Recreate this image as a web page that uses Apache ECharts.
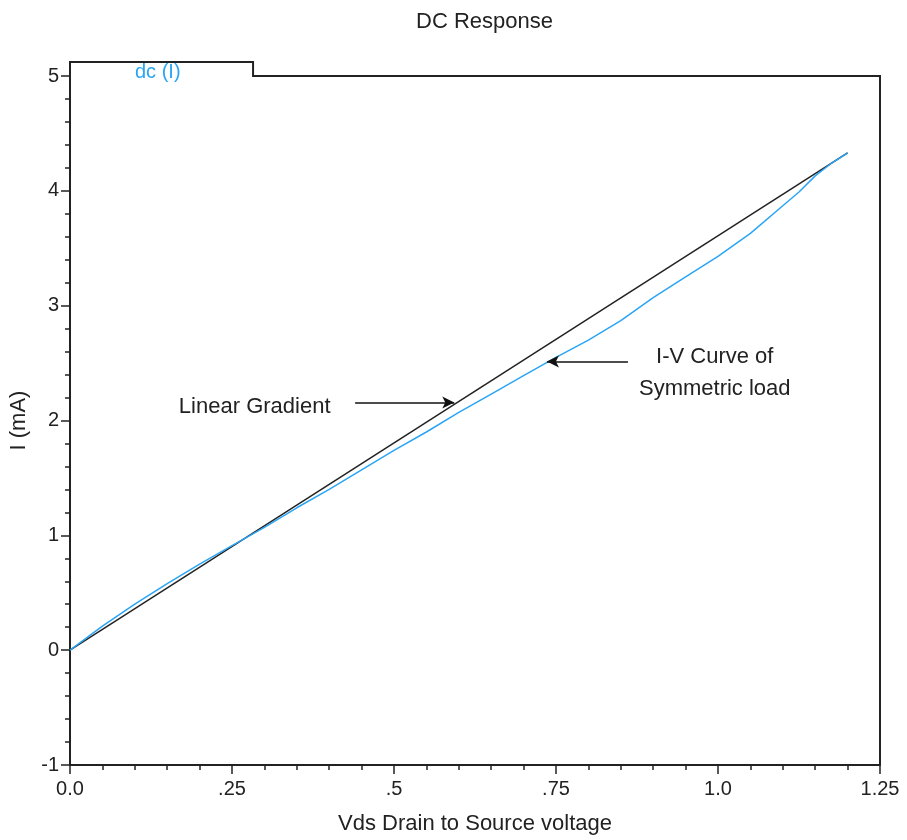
<!DOCTYPE html>
<html>
<head>
<meta charset="utf-8">
<title>DC Response</title>
<script src="https://cdn.jsdelivr.net/npm/echarts@6/dist/echarts.min.js"></script>
<style>
    html, body {margin: 0; padding: 0; background: #fff;}
    #chartWrap {width: 907px; height: 840px;}
</style>
</head>
<body>
<div id="chartWrap"></div>
<script>
// drain-source voltage (V) and measured current (mA) of the symmetric load
const vds = [0, 0.05, 0.1, 0.15, 0.2, 0.25, 0.3, 0.35, 0.4, 0.45, 0.5, 0.55, 0.6,
    0.65, 0.7, 0.75, 0.8, 0.85, 0.9, 0.95, 1.0, 1.05, 1.1, 1.125, 1.15, 1.175, 1.2];
const iSymmetric = [0, 0.21, 0.40, 0.58, 0.75, 0.91, 1.07, 1.24, 1.40, 1.57, 1.74, 1.90, 2.07,
    2.23, 2.39, 2.55, 2.70, 2.87, 3.07, 3.25, 3.43, 3.63, 3.87, 3.99, 4.13, 4.24, 4.33];

// straight reference line (end points)
const gradientX = [0, 1.2];
const gradientY = [0, 4.33];

const xTickLabels = ['0.0', '.25', '.5', '.75', '1.0', '1.25'];

// annotation arrows: [fromX, fromY, toX, toY]
const arrows = [
    [0.44, 2.157, 0.593, 2.157],
    [0.861, 2.513, 0.736, 2.513]
];

const font = 'Liberation Sans, Arial, sans-serif';
const ink = '#222';
const blue = '#2aa5f5';

const myChart = echarts.init(document.getElementById('chartWrap'));

function pairs(xs, ys) {
    return xs.map(function (x, i) { return [x, ys[i]]; });
}

myChart.setOption({
    animation: false,
    title: {
        text: 'DC Response',
        left: 411,
        top: 6,
        textStyle: {fontFamily: font, fontSize: 22, fontWeight: 'normal', color: ink}
    },
    legend: {
        data: ['dc (I)'],
        left: 135,
        top: 62,
        padding: 0,
        icon: 'none',
        itemWidth: 0,
        itemHeight: 20,
        selectedMode: false,
        textStyle: {fontFamily: font, fontSize: 20, color: blue, padding: [0, 0, 0, -5]}
    },
    grid: {left: 70, right: 27, top: 76, bottom: 74, containLabel: false},
    xAxis: {
        type: 'value',
        min: 0,
        max: 1.25,
        interval: 0.25,
        name: 'Vds Drain to Source voltage',
        nameLocation: 'middle',
        nameGap: 48,
        nameTextStyle: {fontFamily: font, fontSize: 22, color: ink},
        axisLine: {onZero: false, lineStyle: {color: ink, width: 2}},
        axisTick: {length: 9, lineStyle: {color: ink, width: 1.5}},
        minorTick: {show: true, splitNumber: 5, length: 5, lineStyle: {color: ink, width: 1.5}},
        splitLine: {show: false},
        axisLabel: {
            margin: 14,
            fontFamily: font,
            fontSize: 20,
            color: ink,
            formatter: function (v) { return xTickLabels[Math.round(v / 0.25)]; }
        }
    },
    yAxis: {
        type: 'value',
        min: -1,
        max: 5,
        interval: 1,
        name: 'I (mA)',
        nameLocation: 'middle',
        nameRotate: 90,
        nameGap: 38,
        nameTextStyle: {fontFamily: font, fontSize: 22, color: ink},
        axisLine: {show: true, onZero: false, lineStyle: {color: ink, width: 2}},
        axisTick: {show: true, length: 9, lineStyle: {color: ink, width: 1.5}},
        minorTick: {show: true, splitNumber: 5, length: 5, lineStyle: {color: ink, width: 1.5}},
        splitLine: {show: false},
        axisLabel: {margin: 11, fontFamily: font, fontSize: 20, color: ink}
    },
    series: [
        {
            name: 'Linear Gradient',
            type: 'line',
            data: pairs(gradientX, gradientY),
            showSymbol: false,
            silent: true,
            lineStyle: {color: ink, width: 1.5},
            markLine: {
                silent: true,
                symbol: ['none', 'arrow'],
                symbolSize: [9, 12],
                label: {show: false},
                lineStyle: {color: '#111', width: 1.5, type: 'solid'},
                data: arrows.map(function (a) {
                    return [{coord: [a[0], a[1]]}, {coord: [a[2], a[3]]}];
                })
            }
        },
        {
            name: 'dc (I)',
            type: 'line',
            data: pairs(vds, iSymmetric),
            showSymbol: false,
            silent: true,
            lineStyle: {color: blue, width: 1.5}
        }
    ]
});

// frame: top edge with the "dc (I)" tab, and the right edge; plus the two notes
function drawFrame() {
    const tl = myChart.convertToPixel({gridIndex: 0}, [0, 5]);
    const br = myChart.convertToPixel({gridIndex: 0}, [1.25, -1]);
    const tabRight = myChart.convertToPixel({gridIndex: 0}, [0.2825, 5])[0];
    const tabH = 14;

    const linear = myChart.convertToPixel({gridIndex: 0}, [0.168, 2.12]);
    const iv = myChart.convertToPixel({gridIndex: 0}, [0.995, 2.41]);

    myChart.setOption({
        graphic: [
            {
                type: 'polyline',
                silent: true,
                shape: {
                    points: [
                        [tl[0], tl[1]], [tl[0], tl[1] - tabH], [tabRight, tl[1] - tabH],
                        [tabRight, tl[1]], [br[0], tl[1]], [br[0], br[1]]
                    ]
                },
                style: {stroke: ink, lineWidth: 2, fill: null}
            },
            {
                type: 'text',
                silent: true,
                x: linear[0],
                y: linear[1],
                style: {
                    text: 'Linear Gradient',
                    font: '22px ' + font,
                    fill: ink,
                    align: 'left',
                    verticalAlign: 'middle'
                }
            },
            {
                type: 'text',
                silent: true,
                x: iv[0],
                y: iv[1],
                style: {
                    text: 'I-V Curve of\nSymmetric load',
                    font: '22px ' + font,
                    lineHeight: 32,
                    fill: ink,
                    align: 'center',
                    verticalAlign: 'middle'
                }
            }
        ]
    });
}

drawFrame();
</script>
</body>
</html>
